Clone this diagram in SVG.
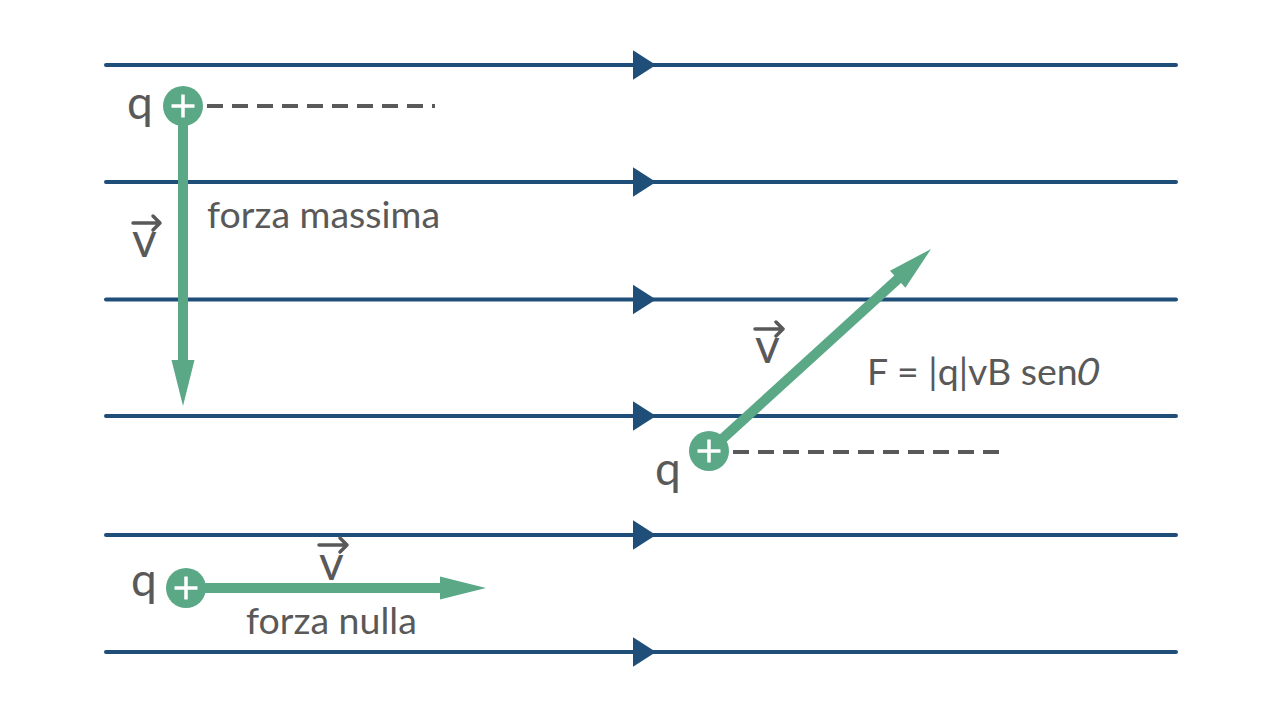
<svg xmlns="http://www.w3.org/2000/svg" width="1280" height="720" viewBox="0 0 1280 720">
  <style>
    .field { stroke: #1f4e79; stroke-width: 4; stroke-linecap: round; fill: none; }
    .fhead { fill: #1f4e79; }
    .shaft { stroke: #5ba887; stroke-width: 10; fill: none; }
    .vhead { fill: #5ba887; }
    .dash { stroke: #595959; stroke-width: 4; stroke-dasharray: 16 9; fill: none; }
    .charge { fill: #5ba887; }
    .plus { stroke: #ffffff; stroke-width: 3.5; fill: none; }
    .lbl { font-family: Lato, "Liberation Sans", sans-serif; fill: #595959; }
    .q { font-size: 46px; }
    .v { font-size: 48px; }
    .t { font-size: 37.5px; }
    .varrow { stroke: #595959; stroke-width: 3.5; fill: none; stroke-linecap: round; stroke-linejoin: round; }
  </style>
  <defs>
    <polygon id="fh" points="633,-14.8 656,0 633,14.8"/>
  </defs>

  <g id="field-lines">
    <line class="field" x1="106" y1="65" x2="1176" y2="65"/>
    <line class="field" x1="106" y1="182" x2="1176" y2="182"/>
    <line class="field" x1="106" y1="299.5" x2="1176" y2="299.5"/>
    <line class="field" x1="106" y1="416" x2="1176" y2="416"/>
    <line class="field" x1="106" y1="535" x2="1176" y2="535"/>
    <line class="field" x1="106" y1="652" x2="1176" y2="652"/>
    <use href="#fh" class="fhead" y="65"/>
    <use href="#fh" class="fhead" y="182"/>
    <use href="#fh" class="fhead" y="299.5"/>
    <use href="#fh" class="fhead" y="416"/>
    <use href="#fh" class="fhead" y="535"/>
    <use href="#fh" class="fhead" y="652"/>
  </g>

  <g id="connectors">
    <line class="dash" x1="207" y1="106" x2="435" y2="106"/>
    <line class="dash" x1="733" y1="452" x2="1000" y2="452"/>
    <line class="shaft" x1="183" y1="106" x2="183" y2="361"/>
    <polygon class="vhead" points="171.5,360 194.5,360 183,406"/>
    <line class="shaft" x1="709" y1="451" x2="899" y2="278"/>
    <polygon class="vhead" points="905.4,287.8 890,270.8 931,249"/>
    <line class="shaft" x1="186" y1="588" x2="441" y2="588"/>
    <polygon class="vhead" points="440,576.5 440,599.5 486,588"/>
  </g>

  <g id="charge-top">
    <circle class="charge" cx="183" cy="106" r="20"/>
    <path class="plus" d="M171.5 106H194.5M183 94.5V117.5"/>
    <text class="lbl q" x="127" y="119">q</text>
  </g>

  <g id="charge-right">
    <circle class="charge" cx="709" cy="451" r="20"/>
    <path class="plus" d="M697.5 451H720.5M709 439.5V462.5"/>
    <text class="lbl q" x="655" y="485">q</text>
  </g>

  <g id="charge-bottom">
    <circle class="charge" cx="186" cy="588" r="20"/>
    <path class="plus" d="M174.5 588H197.5M186 576.5V599.5"/>
    <text class="lbl q" x="131" y="596">q</text>
  </g>

  <g id="v-left">
    <text class="lbl v" x="132" y="257">v</text>
    <path class="varrow" d="M133 223H160M153 216L160 223L153 230"/>
  </g>
  <g id="v-right">
    <text class="lbl v" x="755" y="363">v</text>
    <path class="varrow" d="M755 329H783M776 322L783 329L776 336"/>
  </g>
  <g id="v-bottom">
    <text class="lbl v" x="319" y="580">v</text>
    <path class="varrow" d="M319 545H347M340 538L347 545L340 552"/>
  </g>

  <g id="label-max">
    <text class="lbl t" x="207" y="228">forza massima</text>
  </g>
  <g id="label-formula">
    <text class="lbl t" x="867" y="385">F = |q|vB sen</text>
    <text class="lbl t" transform="translate(1075 385) skewX(-12)" x="0" y="0">0</text>
  </g>
  <g id="label-null">
    <text class="lbl t" x="246" y="634">forza nulla</text>
  </g>
</svg>
